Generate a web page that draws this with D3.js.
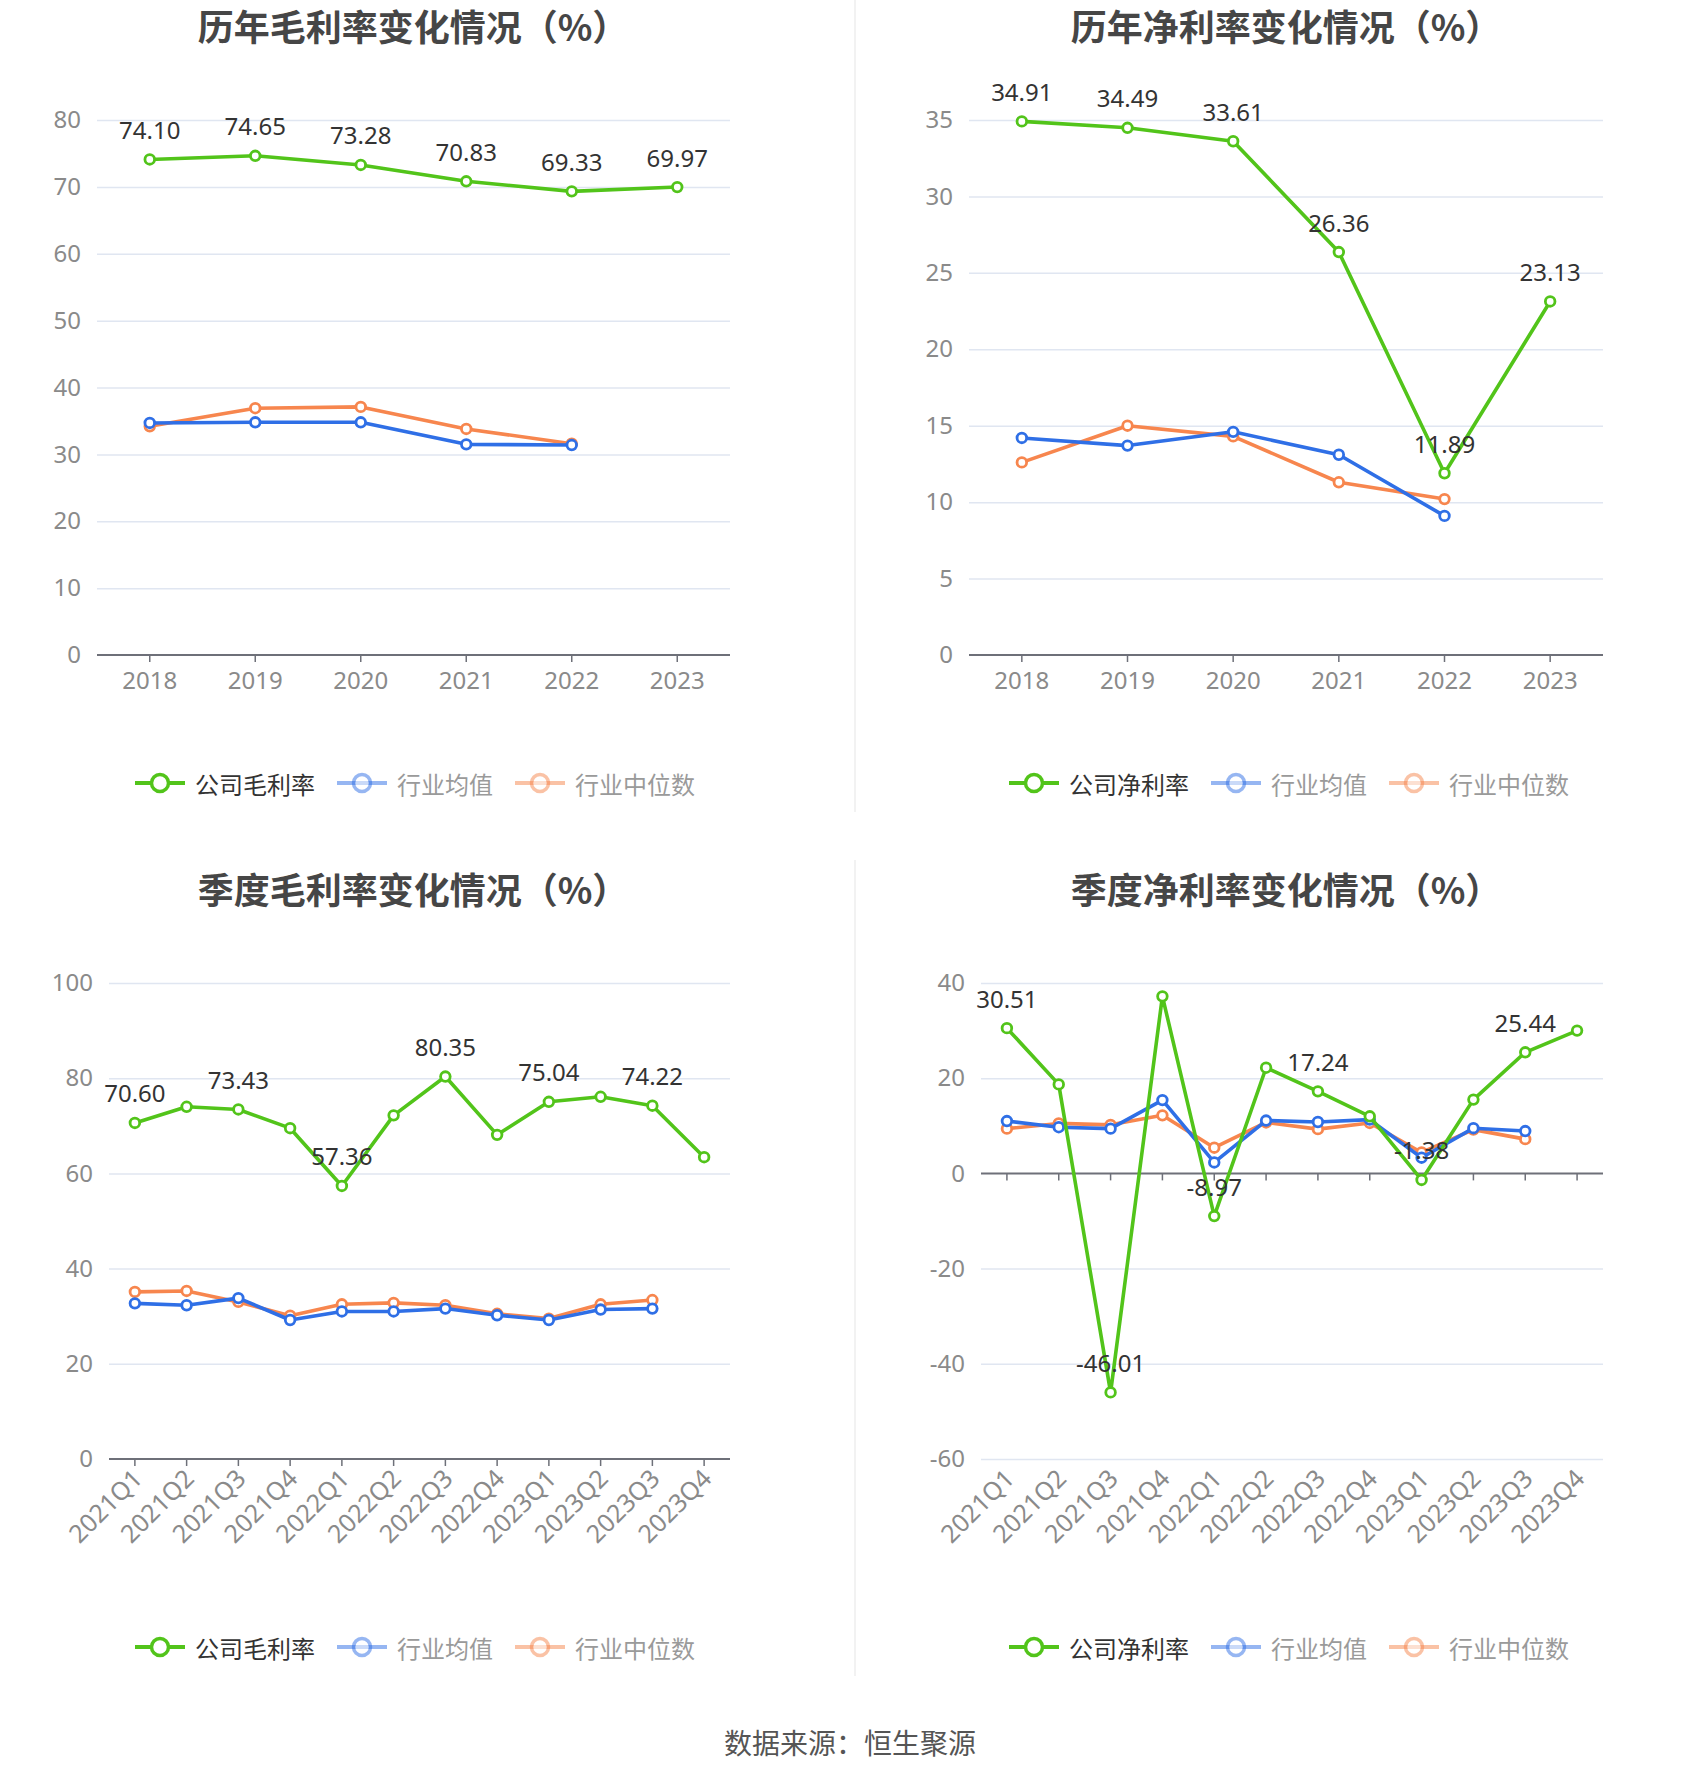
<!DOCTYPE html>
<html>
<head>
<meta charset="utf-8">
<script src="https://cdn.jsdelivr.net/npm/d3@7/dist/d3.min.js"></script>
<style>
  html, body { margin: 0; padding: 0; background: #ffffff; }
  svg { display: block; font-family: "Noto Sans", "Noto Sans CJK SC", sans-serif; }
</style>
</head>
<body>
<svg id="chart" width="1700" height="1782"></svg>
<script>
// ---------------- data ----------------
const years = ['2018', '2019', '2020', '2021', '2022', '2023'];
const quarters = ['2021Q1', '2021Q2', '2021Q3', '2021Q4', '2022Q1', '2022Q2', '2022Q3', '2022Q4', '2023Q1', '2023Q2', '2023Q3', '2023Q4'];

const annualGrossCompany = [74.10, 74.65, 73.28, 70.83, 69.33, 69.97];
const annualGrossMean    = [34.7, 34.8, 34.8, 31.5, 31.4];
const annualGrossMedian  = [34.2, 36.9, 37.1, 33.8, 31.6];

const annualNetCompany = [34.91, 34.49, 33.61, 26.36, 11.89, 23.13];
const annualNetMean    = [14.2, 13.7, 14.6, 13.1, 9.1];
const annualNetMedian  = [12.6, 15.0, 14.3, 11.3, 10.2];

const quarterGrossCompany = [70.60, 74.0, 73.43, 69.5, 57.36, 72.2, 80.35, 68.1, 75.04, 76.1, 74.22, 63.4];
const quarterGrossMean    = [32.7, 32.3, 33.8, 29.2, 31.0, 31.0, 31.6, 30.2, 29.2, 31.4, 31.6];
const quarterGrossMedian  = [35.1, 35.3, 33.0, 30.1, 32.5, 32.8, 32.3, 30.5, 29.5, 32.5, 33.4];

const quarterNetCompany = [30.51, 18.7, -46.01, 37.2, -8.97, 22.2, 17.24, 12.0, -1.38, 15.5, 25.44, 30.0];
const quarterNetMean    = [11.0, 9.7, 9.4, 15.4, 2.3, 11.1, 10.8, 11.3, 3.3, 9.5, 8.9];
const quarterNetMedian  = [9.4, 10.5, 10.2, 12.2, 5.4, 10.7, 9.3, 10.6, 4.4, 9.2, 7.2];

const ticksAnnualGross  = [0, 10, 20, 30, 40, 50, 60, 70, 80];
const ticksAnnualNet    = [0, 5, 10, 15, 20, 25, 30, 35];
const ticksQuarterGross = [0, 20, 40, 60, 80, 100];
const ticksQuarterNet   = [-60, -40, -20, 0, 20, 40];

const titles = ['历年毛利率变化情况（%）', '历年净利率变化情况（%）', '季度毛利率变化情况（%）', '季度净利率变化情况（%）'];
const legendGross = ['公司毛利率', '行业均值', '行业中位数'];
const legendNet   = ['公司净利率', '行业均值', '行业中位数'];
const sourceText = '数据来源：恒生聚源';

// ---------------- style ----------------
const COLORS = ['#52c41a', '#2f6fe6', '#f7864e'];
const svg = d3.select('#chart');

// dividers
svg.append('line').attr('x1', 855).attr('x2', 855).attr('y1', 0).attr('y2', 812)
  .attr('stroke', '#eeeeee').attr('stroke-width', 1.5);
svg.append('line').attr('x1', 855).attr('x2', 855).attr('y1', 860).attr('y2', 1676)
  .attr('stroke', '#eeeeee').attr('stroke-width', 1.5);

function drawPanel(cfg) {
  const g = svg.append('g');
  const x = d3.scaleBand().domain(cfg.cats).range([cfg.left, cfg.right]);
  const y = d3.scaleLinear().domain(cfg.domain).range([cfg.bottom, cfg.top]);
  const cx = d => x(d) + x.bandwidth() / 2;

  // title
  g.append('text').attr('x', cfg.cx).attr('y', cfg.titleY)
    .attr('text-anchor', 'middle').attr('dominant-baseline', 'central')
    .attr('font-family', '"Noto Sans CJK SC", sans-serif')
    .attr('font-weight', 'bold').attr('font-size', 36).attr('fill', '#464646')
    .text(cfg.title);

  // grid lines + y labels
  const yAxis = d3.axisLeft(y).tickValues(cfg.ticks).tickFormat(d => String(d))
    .tickSize(-(cfg.right - cfg.left)).tickPadding(16);
  const ya = g.append('g').attr('transform', `translate(${cfg.left},0)`).call(yAxis);
  ya.select('.domain').remove();
  ya.selectAll('.tick line').attr('stroke', '#e0e6f1').attr('stroke-width', 1.5)
    .attr('display', d => d === 0 ? 'none' : null);
  ya.selectAll('.tick text').attr('fill', '#8a8a8a').attr('font-size', 24)
    .attr('font-family', '"Noto Sans", sans-serif');

  // x axis line at zero
  const zeroY = y(0);
  const xAxis = d3.axisBottom(x).tickSize(7).tickFormat('');
  const xa = g.append('g').attr('transform', `translate(0,${zeroY})`).call(xAxis);
  xa.select('.domain').attr('stroke', '#6e7079').attr('stroke-width', 2)
    .attr('d', `M${cfg.left},0H${cfg.right}`);
  xa.selectAll('.tick line').attr('stroke', '#6e7079').attr('stroke-width', 1.5);

  // x labels
  const lab = g.append('g');
  cfg.cats.forEach(c => {
    if (cfg.rotate) {
      lab.append('text')
        .attr('transform', `translate(${cx(c) + 2},${cfg.bottom + 14}) rotate(-45)`)
        .attr('text-anchor', 'end').attr('dominant-baseline', 'central')
        .attr('font-size', 25).attr('fill', '#8a8a8a').text(c);
    } else {
      lab.append('text').attr('x', cx(c)).attr('y', cfg.bottom + 24)
        .attr('text-anchor', 'middle').attr('dominant-baseline', 'central')
        .attr('font-size', 24).attr('fill', '#8a8a8a').text(c);
    }
  });

  // series: draw industry first, company on top
  const order = [2, 1, 0];
  order.forEach(si => {
    const vals = cfg.series[si];
    const pts = vals.map((v, i) => [cx(cfg.cats[i]), y(v)]);
    g.append('path').attr('d', d3.line()(pts)).attr('fill', 'none')
      .attr('stroke', COLORS[si]).attr('stroke-width', 3.6).attr('stroke-linejoin', 'round');
    g.selectAll(null).data(pts).enter().append('circle')
      .attr('cx', d => d[0]).attr('cy', d => d[1]).attr('r', 4.8)
      .attr('fill', '#ffffff').attr('stroke', COLORS[si]).attr('stroke-width', 2.8);
  });

  // data labels for company
  cfg.series[0].forEach((v, i) => {
    if (!cfg.labelEvery || i % 2 === 0) {
      g.append('text').attr('x', cx(cfg.cats[i])).attr('y', y(v) - 30)
        .attr('text-anchor', 'middle').attr('dominant-baseline', 'central')
        .attr('font-size', 24).attr('fill', '#333333').text(v.toFixed(2));
    }
  });

  // legend
  const lg = g.append('g');
  let xpos = 0;
  const GAP = 22;
  cfg.legend.forEach((name, i) => {
    const item = lg.append('g').attr('transform', `translate(${xpos},0)`);
    const op = i === 0 ? 1 : 0.5;
    item.append('line').attr('x1', 0).attr('x2', 50).attr('y1', 0).attr('y2', 0)
      .attr('stroke', COLORS[i]).attr('stroke-width', 4).attr('opacity', op);
    item.append('circle').attr('cx', 25).attr('cy', 0).attr('r', 8.5)
      .attr('fill', '#ffffff').attr('stroke', COLORS[i]).attr('stroke-width', 3.5).attr('opacity', op);
    const t = item.append('text').attr('x', 60).attr('y', 0).attr('dominant-baseline', 'central')
      .attr('font-family', '"Noto Sans CJK SC", sans-serif')
      .attr('font-size', 24).attr('fill', i === 0 ? '#333333' : '#9a9a9a').text(name);
    xpos += 60 + t.node().getComputedTextLength() + GAP;
  });
  const totalW = xpos - GAP;
  lg.attr('transform', `translate(${cfg.legendCx - totalW / 2},${cfg.legendY})`);
}

drawPanel({
  title: titles[0], cx: 413, titleY: 25,
  cats: years, domain: [0, 80], ticks: ticksAnnualGross,
  left: 97, right: 730, top: 120, bottom: 655,
  series: [annualGrossCompany, annualGrossMean, annualGrossMedian],
  legend: legendGross, legendCx: 415, legendY: 783, rotate: false, labelEvery: false
});
drawPanel({
  title: titles[1], cx: 1286, titleY: 25,
  cats: years, domain: [0, 35], ticks: ticksAnnualNet,
  left: 969, right: 1603, top: 120, bottom: 655,
  series: [annualNetCompany, annualNetMean, annualNetMedian],
  legend: legendNet, legendCx: 1289, legendY: 783, rotate: false, labelEvery: false
});
drawPanel({
  title: titles[2], cx: 413, titleY: 888,
  cats: quarters, domain: [0, 100], ticks: ticksQuarterGross,
  left: 109, right: 730, top: 983, bottom: 1459,
  series: [quarterGrossCompany, quarterGrossMean, quarterGrossMedian],
  legend: legendGross, legendCx: 415, legendY: 1647, rotate: true, labelEvery: true
});
drawPanel({
  title: titles[3], cx: 1286, titleY: 888,
  cats: quarters, domain: [-60, 40], ticks: ticksQuarterNet,
  left: 981, right: 1603, top: 983, bottom: 1459,
  series: [quarterNetCompany, quarterNetMean, quarterNetMedian],
  legend: legendNet, legendCx: 1289, legendY: 1647, rotate: true, labelEvery: true
});

svg.append('text').attr('x', 850).attr('y', 1742).attr('text-anchor', 'middle')
  .attr('dominant-baseline', 'central').attr('font-family', '"Noto Sans CJK SC", sans-serif')
  .attr('font-size', 28).attr('fill', '#555555').text(sourceText);
</script>
</body>
</html>
